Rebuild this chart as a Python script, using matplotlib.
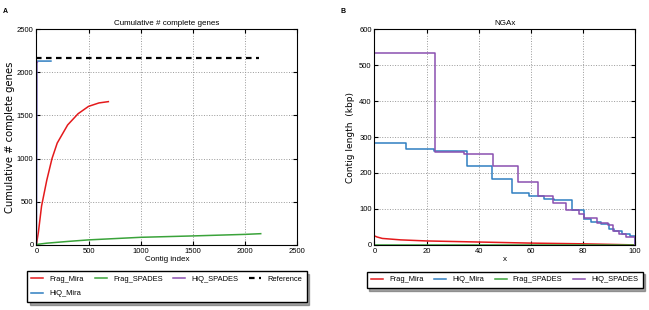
import matplotlib
matplotlib.use('Agg')
from matplotlib import pyplot as plt

# colours per assembly
colors = {'Frag_Mira': '#e41a1c', 'HiQ_Mira': '#2f7fc1',
          'Frag_SPADES': '#3aa33a', 'HiQ_SPADES': '#8a4fb0'}

# Panel A: cumulative # complete genes vs contig index
frag_mira_idx = [0, 20, 50, 100, 150, 200, 300, 400, 500, 600, 690]
frag_mira_genes = [0, 150, 450, 750, 1000, 1180, 1390, 1520, 1605, 1645, 1660]
hiq_mira_idx = [0, 3, 140]
hiq_mira_genes = [0, 2130, 2130]
frag_spades_idx = [0, 100, 300, 500, 1000, 1500, 2000, 2150]
frag_spades_genes = [5, 20, 40, 58, 88, 104, 122, 130]
hiq_spades_idx = [0, 4, 10]
hiq_spades_genes = [0, 2120, 2120]
reference_idx = [0, 2130]
reference_genes = [2170, 2170]

# Panel B: NGAx (kbp)
ngax_frag_mira_x = [0, 1, 3, 10, 20, 40, 60, 80, 100]
ngax_frag_mira_y = [25, 22, 18, 14, 11, 8, 5, 3, 0]
ngax_hiq_mira_x = [0, 12, 23, 35.5, 45, 53, 59.5, 65, 69, 76, 80.6, 83.3, 87, 90, 92, 95, 98, 100]
ngax_hiq_mira_y = [282, 268, 262, 220, 183, 143, 137, 127, 125, 97, 72, 65, 57, 45, 38, 30, 25, 0]
ngax_frag_spades_x = [0, 100]
ngax_frag_spades_y = [1, 1]
ngax_hiq_spades_x = [0, 23.3, 34.5, 45.5, 55, 63, 68.5, 73.5, 78.5, 80.6, 85.5, 89.6, 91.7, 94, 96.8, 100]
ngax_hiq_spades_y = [535, 257, 252, 220, 176, 137, 116, 97, 85, 74, 62, 56, 39, 31, 21, 0]

plt.rcParams.update({'font.family': ['Liberation Sans', 'DejaVu Sans'],
                     'font.size': 5.5, 'axes.linewidth': 0.8,
                     'xtick.direction': 'in', 'ytick.direction': 'in',
                     'xtick.top': True, 'ytick.right': True,
                     'xtick.major.size': 3, 'ytick.major.size': 3,
                     'xtick.major.pad': 2, 'ytick.major.pad': 2,
                     'xtick.labelsize': 5.5, 'ytick.labelsize': 5.5})

fig = plt.figure(figsize=(6.49, 3.10), dpi=100)
ax1 = fig.add_axes([0.056, 0.21, 0.402, 0.696])
ax2 = fig.add_axes([0.577, 0.21, 0.401, 0.696])

lw = 1.1
ax1.plot(frag_mira_idx, frag_mira_genes, color=colors['Frag_Mira'], lw=lw, label='Frag_Mira')
ax1.plot(hiq_mira_idx, hiq_mira_genes, color=colors['HiQ_Mira'], lw=lw, label='HiQ_Mira')
ax1.plot(frag_spades_idx, frag_spades_genes, color=colors['Frag_SPADES'], lw=lw, label='Frag_SPADES')
ax1.plot(hiq_spades_idx, hiq_spades_genes, color=colors['HiQ_SPADES'], lw=lw, label='HiQ_SPADES')
ax1.plot(reference_idx, reference_genes, color='black', lw=1.6, ls=(0, (2.5, 2)), label='Reference')
ax1.set_xlim(0, 2500)
ax1.set_ylim(0, 2500)
ax1.set_xticks([0, 500, 1000, 1500, 2000, 2500])
ax1.set_yticks([0, 500, 1000, 1500, 2000, 2500])
ax1.grid(True, ls=':', color='#999999', lw=0.7)
ax1.set_title('Cumulative # complete genes', fontsize=5.8, pad=3)
ax1.set_xlabel('Contig index', fontsize=5.8, labelpad=1)
ax1.set_ylabel('Cumulative # complete genes', fontsize=7.2, family='DejaVu Sans', labelpad=1)
ax1.legend(loc='upper left', bbox_to_anchor=(0.0416, 0.0, 0.431, 0.126),
           bbox_transform=fig.transFigure, mode='expand', ncol=4, fontsize=5.4,
           frameon=True, fancybox=False, shadow=True, edgecolor='black',
           handlelength=1.6, borderpad=0.6, labelspacing=1.0, handletextpad=0.8,
           borderaxespad=0)

ax2.plot(ngax_frag_mira_x, ngax_frag_mira_y, color=colors['Frag_Mira'], lw=lw, label='Frag_Mira')
ax2.step(ngax_hiq_mira_x, ngax_hiq_mira_y, where='post', color=colors['HiQ_Mira'], lw=lw, label='HiQ_Mira')
ax2.step(ngax_frag_spades_x, ngax_frag_spades_y, where='post', color=colors['Frag_SPADES'], lw=lw, label='Frag_SPADES')
ax2.step(ngax_hiq_spades_x, ngax_hiq_spades_y, where='post', color=colors['HiQ_SPADES'], lw=lw, label='HiQ_SPADES')
ax2.set_xlim(0, 100)
ax2.set_ylim(0, 600)
ax2.set_xticks([0, 20, 40, 60, 80, 100])
ax2.set_yticks([0, 100, 200, 300, 400, 500, 600])
ax2.grid(True, ls=':', color='#999999', lw=0.7)
ax2.set_title('NGAx', fontsize=5.8, pad=3)
ax2.set_xlabel('x', fontsize=5.8, labelpad=1)
ax2.set_ylabel('Contig length  (kbp)', fontsize=6.5, family='DejaVu Sans', labelpad=3)
ax2.legend(loc='upper left', bbox_to_anchor=(0.565, 0.0, 0.425, 0.124),
           bbox_transform=fig.transFigure, mode='expand', ncol=4, fontsize=5.4,
           frameon=True, fancybox=False, shadow=True, edgecolor='black',
           handlelength=1.6, borderpad=0.6, handletextpad=0.8, borderaxespad=0)

fig.text(0.005, 0.975, 'A', fontsize=5, fontweight='bold', va='top')
fig.text(0.525, 0.975, 'B', fontsize=5, fontweight='bold', va='top')

fig.savefig('out.png', dpi=100)
